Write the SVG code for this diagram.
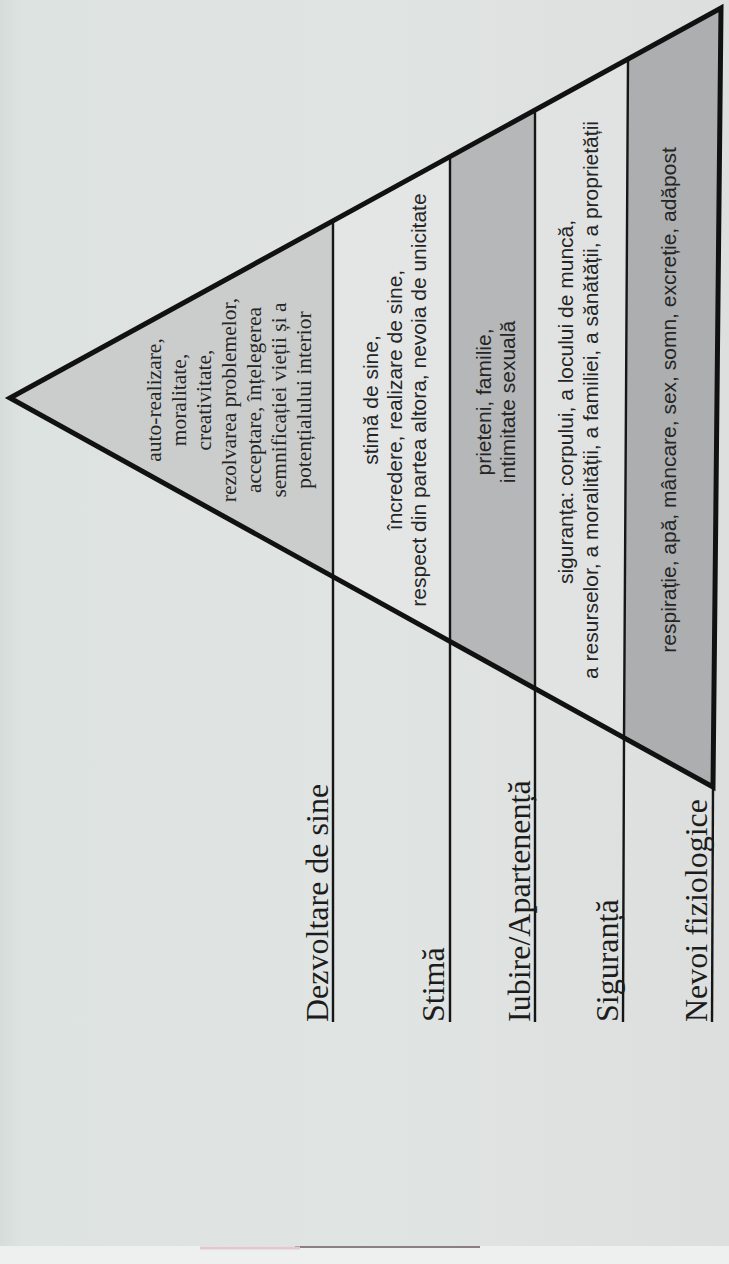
<svg xmlns="http://www.w3.org/2000/svg" width="729" height="1264" viewBox="0 0 729 1264">
<defs>
<linearGradient id="page" x1="0" y1="0" x2="1" y2="0">
<stop offset="0" stop-color="#d6dcda"/>
<stop offset="0.03" stop-color="#dde3e1"/>
<stop offset="0.5" stop-color="#e0e4e2"/>
<stop offset="1" stop-color="#dcdfdd"/>
</linearGradient>
<style>
.lvl{stroke:none}
.f1{fill:#cbcdcd}
.f2{fill:#e4e6e5}
.f3{fill:#b5b7b8}
.f4{fill:#e1e3e2}
.f5{fill:#acaeaf}
.sep{stroke:#161616;stroke-width:2.4;fill:none}
.outline{stroke:#111;stroke-width:5;fill:none;stroke-linejoin:miter}
.ser{font-family:"Liberation Serif","Times New Roman",serif;font-size:21.5px;fill:#252525;text-anchor:middle}
.san{font-family:"Liberation Sans",Arial,sans-serif;font-size:21px;fill:#252525;text-anchor:middle}
.lab{font-family:"Liberation Serif","Times New Roman",serif;font-size:32px;fill:#1c1c1c;text-anchor:start}
</style>
</defs>
<rect x="0" y="0" width="729" height="1264" fill="url(#page)"/>
<rect x="0" y="1246" width="729" height="18" fill="#eef0ef"/>
<line x1="295" y1="1247" x2="480" y2="1247" stroke="#8a7f83" stroke-width="2"/>
<line x1="200" y1="1248" x2="300" y2="1248" stroke="#e3c9cf" stroke-width="3"/>

<g id="level1"><polygon class="lvl f1" points="10,398 333,221 333,577"/></g>
<g id="level2"><polygon class="lvl f2" points="333,221 450,157 450,641.5 333,577"/></g>
<g id="level3"><polygon class="lvl f3" points="450,157 535,110.4 535,688.5 450,641.5"/></g>
<g id="level4"><polygon class="lvl f4" points="535,110.4 628,60 624,739 535,688.5"/></g>
<g id="level5"><polygon class="lvl f5" points="628,60 721,8 713,787 624,739"/></g>

<g id="connectors">
<line class="sep" x1="333" y1="221" x2="333" y2="1022"/>
<line class="sep" x1="450" y1="157" x2="450" y2="1022"/>
<line class="sep" x1="535" y1="110" x2="535" y2="1022"/>
<polyline class="sep" points="628,60 624,739 623,1022"/>
<line class="sep" x1="713" y1="787" x2="712" y2="1022"/>
<polygon class="outline" points="10,398 721,8 713,787"/>
</g>

<g id="text1">
<text class="ser" transform="translate(161,400) rotate(-90)">auto-realizare,</text>
<text class="ser" transform="translate(186,400) rotate(-90)">moralitate,</text>
<text class="ser" transform="translate(211,400) rotate(-90)">creativitate,</text>
<text class="ser" transform="translate(236,400) rotate(-90)">rezolvarea problemelor,</text>
<text class="ser" transform="translate(261,400) rotate(-90)">acceptare, înțelegerea</text>
<text class="ser" transform="translate(286,400) rotate(-90)">semnificației vieții și a</text>
<text class="ser" transform="translate(311,400) rotate(-90)">potențialului interior</text>
</g>
<g id="text2">
<text class="san" transform="translate(378,400) rotate(-90)">stimă de sine,</text>
<text class="san" transform="translate(402,400) rotate(-90)">încredere, realizare de sine,</text>
<text class="san" transform="translate(426,400) rotate(-90)">respect din partea altora, nevoia de unicitate</text>
</g>
<g id="text3">
<text class="san" transform="translate(491,402) rotate(-90)">prieteni, familie,</text>
<text class="san" transform="translate(515,402) rotate(-90)">intimitate sexuală</text>
</g>
<g id="text4">
<text class="san" transform="translate(573,402) rotate(-90)">siguranța: corpului, a locului de muncă,</text>
<text class="san" transform="translate(598,400) rotate(-90)">a resurselor, a moralității, a familiei, a sănătății, a proprietății</text>
</g>
<g id="text5">
<text class="san" transform="translate(676,400) rotate(-90)">respirație, apă, mâncare, sex, somn, excreție, adăpost</text>
</g>

<g id="labels">
<text class="lab" transform="translate(328,1022) rotate(-90)">Dezvoltare de sine</text>
<text class="lab" transform="translate(444,1022) rotate(-90)">Stimă</text>
<text class="lab" transform="translate(530,1022) rotate(-90)">Iubire/Apartenență</text>
<text class="lab" transform="translate(618,1022) rotate(-90)">Siguranță</text>
<text class="lab" transform="translate(707,1022) rotate(-90)">Nevoi fiziologice</text>
</g>
</svg>
